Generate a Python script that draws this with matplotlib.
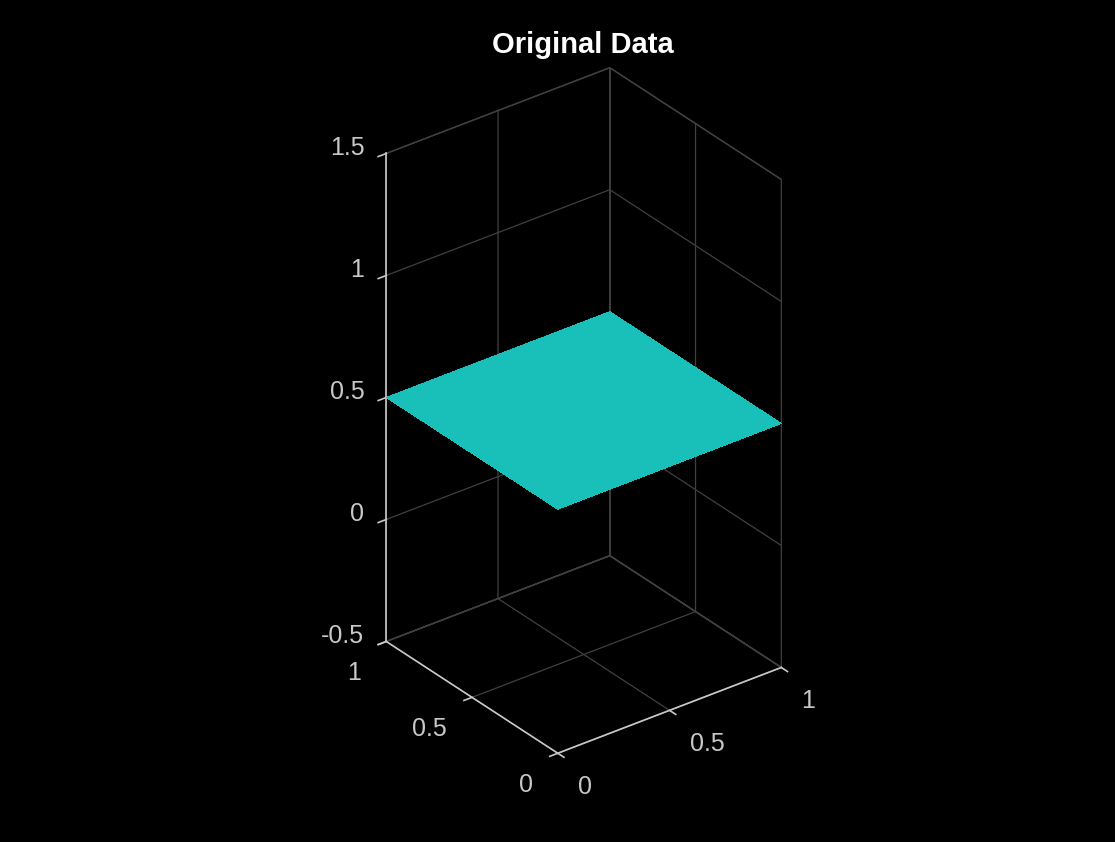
import numpy as np
import matplotlib
matplotlib.use('Agg')
import matplotlib.pyplot as plt
from mpl_toolkits.mplot3d import proj3d

plt.rcParams['font.family'] = ['Liberation Sans', 'DejaVu Sans']
plt.rcParams['grid.color'] = '#404040'
plt.rcParams['grid.linewidth'] = 0.9

# data
x_grid = [0.0, 0.25, 0.5, 0.75, 1.0]
y_grid = [0.0, 0.25, 0.5, 0.75, 1.0]
z_level = 0.5
xy_ticks = [0, 0.5, 1]
xy_labels = ['0', '0.5', '1']
z_ticks = [-0.5, 0, 0.5, 1, 1.5]
z_labels = ['-0.5', '0', '0.5', '1', '1.5']

X, Y = np.meshgrid(x_grid, y_grid)
Z = np.full(X.shape, z_level)

fig = plt.figure(figsize=(11.15, 8.42), dpi=100, facecolor='black')
ax = fig.add_axes([0.2150, 0.1039, 0.6009, 0.7957], projection='3d',
                  proj_type='ortho')
ax.set_facecolor('black')
ax.view_init(elev=30, azim=-127.5)
ax.set_box_aspect((1, 1, 2))

ax.plot_surface(X, Y, Z, color='#19bfb9', shade=False, linewidth=0,
                antialiased=False)

ax.set_xlim(0, 1)
ax.set_ylim(0, 1)
ax.set_zlim(-0.5, 1.5)
# tick labels are drawn below as annotations (MATLAB-like placement)
ax.set_xticks(xy_ticks, [''] * len(xy_ticks))
ax.set_yticks(xy_ticks, [''] * len(xy_ticks))
ax.set_zticks(z_ticks, [''] * len(z_ticks))

for a in [ax.xaxis, ax.yaxis, ax.zaxis]:
    a.set_pane_color((0, 0, 0, 1))
    a.pane.set_edgecolor('#404040')
    a.line.set_color('#c8c8c8')
    a.line.set_linewidth(1.2)
    a._axinfo['tick']['inward_factor'] = 0.45
    a._axinfo['tick']['outward_factor'] = 0.0
    a._axinfo['tick']['linewidth'] = {True: 1.2, False: 0.8}
ax.tick_params(axis='both', colors='#c8c8c8')
ax.tick_params(axis='z', colors='#c8c8c8')

M = ax.get_proj()
lbl = dict(color='#c8c8c8', fontsize=18, textcoords='offset pixels',
           annotation_clip=False, va='baseline')
for t, s in zip(xy_ticks, xy_labels):
    px, py, _ = proj3d.proj_transform(t, 0, -0.5, M)
    ax.annotate(s, (px, py), xytext=(20, -41), ha='left', **lbl)
    px, py, _ = proj3d.proj_transform(0, t, -0.5, M)
    ax.annotate(s, (px, py), xytext=(-25, -39), ha='right', **lbl)
for t, s in zip(z_ticks, z_labels):
    px, py, _ = proj3d.proj_transform(0, 1, t, M)
    ax.annotate(s, (px, py), xytext=(-22, -2), ha='right', **lbl)

fig.text(0.523, 0.937, 'Original Data', color='white', fontsize=21,
         fontweight='bold', ha='center', va='baseline')

fig.savefig('out.png', dpi=100, facecolor='black')
